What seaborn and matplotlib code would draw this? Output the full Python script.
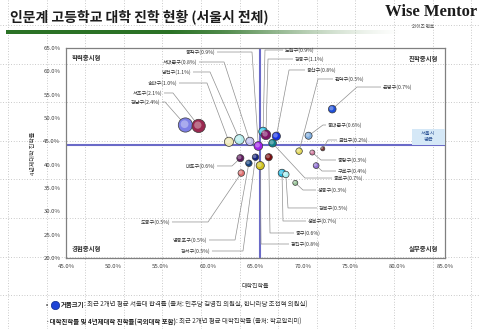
import numpy as np
import pandas as pd
import matplotlib
matplotlib.use("Agg")
import matplotlib.pyplot as plt
import matplotlib.transforms as mtransforms
import seaborn as sns
from matplotlib.patches import Rectangle

# ---- data -------------------------------------------------------------
districts = ["강남구", "서초구", "송파구", "양천구", "서대문구", "동작구", "노원구",
             "강동구", "용산구", "종로구", "관악구", "동대문구", "은평구", "금천구",
             "중랑구", "구로구", "마포구", "강서구", "중구", "영등포구", "광진구",
             "도봉구", "성북구", "강북구", "성동구"]
college_rate = [57.6, 59.0, 62.2, 63.3, 64.4, 65.3, 65.8, 66.1, 67.2, 66.8, 69.6,
                70.6, 73.1, 72.1, 71.0, 71.4, 63.4, 65.0, 66.4, 64.3, 65.5, 63.5,
                67.8, 68.2, 69.2]
univ4_rate = [48.5, 48.3, 44.9, 45.4, 45.0, 44.0, 47.1, 46.4, 46.1, 44.6, 42.9,
              46.2, 51.9, 43.4, 42.6, 39.8, 41.4, 41.6, 41.6, 40.3, 39.8, 38.2,
              38.2, 37.9, 36.1]
snu_rate = [2.4, 2.1, 1.0, 1.1, 0.8, 0.9, 0.9, 1.1, 0.8, 0.7, 0.5, 0.6, 0.7, 0.2,
            0.3, 0.4, 0.6, 0.5, 0.6, 0.5, 0.8, 0.5, 0.7, 0.5, 0.3]
bubble_colors = ["#7D7FE6", "#9A2850", "#ECE6B4", "#B4ECEC", "#BDBDEE", "#A020E8",
                 "#2EC4E8", "#7E1466", "#1530E0", "#0F7F88", "#E2D85C", "#7FAEE0",
                 "#1D4ED8", "#7A3A3A", "#D47FA2", "#9070D2", "#5E1A5E", "#14237E",
                 "#7A0E10", "#12407E", "#CFC21E", "#E07272", "#22B8E2", "#A6F0F2",
                 "#98C498"]

seoul_avg_college = 65.5
seoul_avg_univ4 = 44.3

x_ticks = [45, 50, 55, 60, 65, 70, 75, 80, 85]
y_ticks = [20, 25, 30, 35, 40, 45, 50, 55, 60, 65]

quadrant_names = ["학력중시형", "진학중시형", "경험중시형", "실무중시형"]

# callout placement: district -> (alignment, text x, text y, elbow x)
callouts = {
    "동작구": ("right", 60.83, 64.14, 64.63),
    "서대문구": ("right", 58.93, 62.00, 61.68),
    "양천구": ("right", 58.30, 59.86, 60.20),
    "송파구": ("right", 56.82, 57.50, 59.88),
    "서초구": ("right", 55.24, 55.36, 56.29),
    "강남구": ("right", 55.03, 53.43, 55.45),
    "노원구": ("left", 68.01, 64.57, 66.00),
    "강동구": ("left", 69.06, 62.64, 66.32),
    "용산구": ("left", 70.33, 60.29, 68.54),
    "관악구": ("left", 73.28, 58.36, 71.60),
    "은평구": ("left", 78.35, 56.64, 75.71),
    "동대문구": ("left", 72.55, 48.50, 72.12),
    "금천구": ("left", 73.71, 45.29, 72.65),
    "중랑구": ("left", 73.60, 41.00, 71.91),
    "구로구": ("left", 73.60, 38.64, 72.02),
    "종로구": ("left", 73.18, 37.14, 70.22),
    "성동구": ("left", 71.49, 34.57, 70.01),
    "강북구": ("left", 71.60, 30.72, 68.43),
    "성북구": ("left", 70.44, 27.93, 67.90),
    "중구": ("left", 69.17, 25.36, 66.53),
    "광진구": ("left", 68.64, 23.00, 65.58),
    "마포구": ("right", 60.83, 39.72, 62.52),
    "도봉구": ("right", 56.08, 27.72, 59.99),
    "영등포구": ("right", 59.99, 23.86, 62.84),
    "강서구": ("right", 60.30, 21.50, 63.68),
}

df = pd.DataFrame({"district": districts, "college": college_rate,
                   "univ4": univ4_rate, "snu": snu_rate})

# ---- style ------------------------------------------------------------
sns.set_theme(style="white")
plt.rcParams["font.family"] = ["Noto Sans CJK KR", "DejaVu Sans"]
plt.rcParams["axes.unicode_minus"] = False

W, H = 480, 329
fig = plt.figure(figsize=(W / 100, H / 100), dpi=100)
fig.patch.set_facecolor("white")

# full-figure overlay in pixel units for the page decorations
ov = fig.add_axes([0, 0, 1, 1], zorder=-1)
ov.axis("off")

# dotted page grid
for gx in np.arange(8, W, 38.6):
    ov.plot([gx, gx], [0, H], color="#b8b8b8", lw=0.6, ls=(0, (1, 2.2)), zorder=0)
for gy in np.arange(25, H, 38.6):
    ov.plot([0, W], [gy, gy], color="#b8b8b8", lw=0.6, ls=(0, (1, 2.2)), zorder=0)

# title and brand
ov.text(10, 17, "인문계 고등학교 대학 진학 현황 (서울시 전체)", fontsize=10,
        fontweight="bold", color="#1c1c1c", va="center", ha="left")
ov.text(477, 12, "Wise Mentor", fontsize=12, fontweight="bold",
        family=["Liberation Serif", "DejaVu Serif"], color="#1c1c1c",
        va="center", ha="right")
ov.text(423, 26, "와이즈 멘토", fontsize=3.3, color="#555555", va="center", ha="center")

# green rule fading to the right
n = 400
t = np.linspace(0, 1, n)
dark = np.array([0.17, 0.45, 0.15])
light = np.array([0.80, 0.86, 0.78])
mix = np.clip((t - 0.42) / 0.58, 0, 1)[:, None]
rgb = dark * (1 - mix) + light * mix
alpha = np.clip(1 - np.clip((t - 0.55) / 0.45, 0, 1) ** 1.3, 0, 1)
grad = np.dstack([rgb[None, :, 0], rgb[None, :, 1], rgb[None, :, 2], alpha[None, :]])
ov.imshow(grad, extent=(6, 400, 34.5, 31), aspect="auto", interpolation="bilinear", zorder=1)

# footnotes
ov.text(46, 305, "•", fontsize=4.6, color="#333333", va="center", ha="left")
ov.plot([55], [305], marker="o", markersize=6, color="#1F45D6",
        markeredgecolor="#0E2A8A", markeredgewidth=0.5, zorder=3)
b1 = ov.text(61, 305, "거품크기", fontsize=4.6, fontweight="bold", color="#222222",
             va="center", ha="left")
ov.annotate(": 최근 2개년 평균 서울대 합격률 (출처: 민주당 김영진 의원실, 한나라당 조전혁 의원실)",
            xy=(1, 0.5), xycoords=b1, va="center", ha="left", fontsize=4.6,
            color="#333333")
b2 = ov.text(46, 322, "·대학진학률 및 4년제대학 진학률(국외대학 포함)", fontsize=4.6,
             fontweight="bold", color="#222222", va="center", ha="left")
ov.annotate(": 최근 2개년 평균 대학진학률 (출처: 학교알리미)", xy=(1, 0.5), xycoords=b2,
            va="center", ha="left", fontsize=4.6, color="#333333")

ov.set_xlim(0, W)
ov.set_ylim(H, 0)

# ---- main bubble chart ------------------------------------------------
ax = fig.add_axes([66 / W, 1 - 258 / H, 379 / W, 210 / H], zorder=1)
ax.patch.set_alpha(0)

# Seoul average cross-hair
ax.axhline(seoul_avg_univ4, color="#6a6ac8", lw=1.5, zorder=2)
ax.axvline(seoul_avg_college, color="#6a6ac8", lw=1.5, zorder=2)

# callout leader lines and labels
px_x = 0.105  # one pixel in x data units
for d, xv, yv, sv in zip(districts, college_rate, univ4_rate, snu_rate):
    ha, tx, ty, ex = callouts[d]
    end = tx - px_x if ha == "left" else tx + px_x
    ax.plot([xv, ex, end], [yv, ty, ty], color="#8f8f8f", lw=0.5, zorder=3,
            solid_capstyle="butt")
    ax.text(tx + (px_x if ha == "left" else -px_x), ty, f"{d}({sv:.1f}%)",
            fontsize=3.7, color="#333333", ha=ha, va="center", zorder=5)

sns.scatterplot(data=df, x="college", y="univ4", hue="district",
                palette=dict(zip(districts, bubble_colors)), size="snu",
                sizes=(0, 105), size_norm=(0, 2.4), legend=False,
                edgecolor="#3a3a3a", linewidth=0.5, alpha=1, ax=ax, zorder=4)

# soft sheen on each bubble, nudged toward the upper left
sheen = mtransforms.offset_copy(ax.transData, fig=fig, x=-0.6, y=0.6, units="points")
ax.scatter(college_rate, univ4_rate, s=[105 * v / 2.4 * 0.3 for v in snu_rate],
           color="white", alpha=0.35, linewidths=0, transform=sheen, zorder=4.5)

ax.set_xlim(45, 85)
ax.set_ylim(20, 65)
ax.set_xticks(x_ticks)
ax.set_yticks(y_ticks)
ax.set_xticklabels([f"{v:.1f}%" for v in x_ticks])
ax.set_yticklabels([f"{v:.1f}%" for v in y_ticks])
ax.tick_params(axis="both", direction="in", length=2.5, width=0.6,
               colors="#7f7f7f", labelsize=4.3, labelcolor="#404040")
ax.tick_params(axis="x", pad=4)
ax.tick_params(axis="y", pad=4)
for sp in ax.spines.values():
    sp.set_color("#808080")
    sp.set_linewidth(0.9)
    sp.set_visible(True)

ax.set_xlabel("대학진학률", fontsize=4.3, color="#333333")
ax.set_ylabel("4년제대학 진학률", fontsize=4.3, color="#333333")
ax.xaxis.set_label_coords(0.5, -0.124)
ax.yaxis.set_label_coords(-0.079, 0.5)

# quadrant captions
qkw = dict(fontsize=4.6, fontweight="bold", color="#333333", va="center",
           transform=ax.transAxes, zorder=5)
ax.text(0.016, 0.957, quadrant_names[0], ha="left", **qkw)
ax.text(0.981, 0.952, quadrant_names[1], ha="right", **qkw)
ax.text(0.016, 0.043, quadrant_names[2], ha="left", **qkw)
ax.text(0.981, 0.043, quadrant_names[3], ha="right", **qkw)

# Seoul average tag on the right edge
ax.add_patch(Rectangle((81.5, seoul_avg_univ4), 3.5, 3.4, facecolor="#d5e8f7",
                       edgecolor="none", zorder=3))
ax.text(83.25, seoul_avg_univ4 + 1.7, "서울시\n평균", fontsize=3.8, color="#2f5597",
        ha="center", va="center", linespacing=1.1, zorder=5)

fig.savefig("out.png", dpi=100, facecolor="white")
